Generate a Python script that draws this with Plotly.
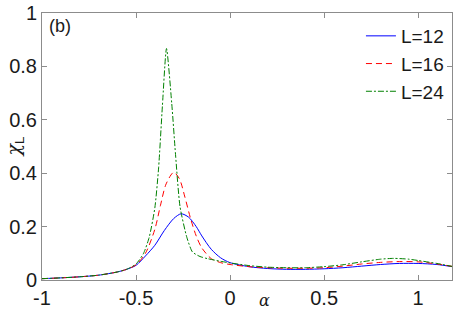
import plotly.graph_objects as go

# L=12
x12 = [-1, -0.9, -0.8, -0.7, -0.6, -0.55, -0.5, -0.45, -0.4, -0.35, -0.3, -0.26, -0.22, -0.18, -0.15, -0.1, -0.05, 0,
       0.1, 0.2, 0.3, 0.4, 0.5, 0.6, 0.7, 0.8, 0.9, 1.0, 1.1, 1.18]
y12 = [0.005, 0.008, 0.012, 0.018, 0.03, 0.04, 0.055, 0.09, 0.13, 0.185, 0.23, 0.248, 0.235, 0.2, 0.165, 0.115, 0.083, 0.065,
       0.05, 0.043, 0.04, 0.04, 0.042, 0.046, 0.052, 0.058, 0.062, 0.062, 0.058, 0.05]
# L=16
x16 = [-1, -0.9, -0.8, -0.7, -0.6, -0.55, -0.5, -0.45, -0.4, -0.37, -0.34, -0.3, -0.27, -0.24, -0.21, -0.18, -0.15, -0.1, -0.05, 0,
       0.1, 0.2, 0.3, 0.4, 0.5, 0.6, 0.7, 0.8, 0.9, 1.0, 1.1, 1.18]
y16 = [0.005, 0.008, 0.012, 0.018, 0.03, 0.04, 0.057, 0.1, 0.19, 0.28, 0.36, 0.403, 0.38, 0.31, 0.23, 0.165, 0.12, 0.08, 0.065, 0.058,
       0.05, 0.046, 0.044, 0.044, 0.046, 0.052, 0.06, 0.066, 0.069, 0.068, 0.06, 0.051]
# L=24
x24 = [-1, -0.9, -0.8, -0.7, -0.6, -0.55, -0.5, -0.46, -0.43, -0.4, -0.38, -0.36, -0.338, -0.31, -0.29, -0.266, -0.23, -0.2, -0.16,
       -0.12, -0.05, 0, 0.1, 0.2, 0.3, 0.4, 0.5, 0.6, 0.7, 0.8, 0.87, 0.95, 1.0, 1.1, 1.18]
y24 = [0.005, 0.008, 0.012, 0.018, 0.03, 0.04, 0.06, 0.1, 0.16, 0.27, 0.42, 0.65, 0.867, 0.66, 0.47, 0.274, 0.16, 0.105, 0.088,
       0.08, 0.07, 0.064, 0.054, 0.048, 0.046, 0.046, 0.05, 0.057, 0.068, 0.078, 0.081, 0.078, 0.073, 0.062, 0.051]

xtickvals = [-1, -0.5, 0, 0.5, 1]
xticktext = ["-1", "-0.5", "0", "0.5", "1"]
ytickvals = [0, 0.2, 0.4, 0.6, 0.8, 1]
yticktext = ["0", "0.2", "0.4", "0.6", "0.8", "1"]

FONT = "Liberation Sans, Arial, sans-serif"
TXT = "#1a1a1a"

fig = go.Figure()
fig.add_trace(go.Scatter(x=x12, y=y12, mode="lines", name="L=12",
                         line=dict(color="#0000ff", width=1, shape="spline", smoothing=0.8)))
fig.add_trace(go.Scatter(x=x16, y=y16, mode="lines", name="L=16",
                         line=dict(color="#ff0000", width=1, dash="6px,4px", shape="spline", smoothing=0.8)))
fig.add_trace(go.Scatter(x=x24, y=y24, mode="lines", name="L=24",
                         line=dict(color="#008000", width=1, dash="6px,2px,2px,2px", shape="spline", smoothing=0.6)))

axis_common = dict(showgrid=False, zeroline=False, showline=True, linecolor="#8c8c8c", linewidth=1,
                   mirror="allticks", ticks="inside", ticklen=5, tickcolor="#8c8c8c", automargin=False,
                   tickfont=dict(family=FONT, size=20, color=TXT))

fig.update_xaxes(range=[-1, 1.18], tickvals=xtickvals, ticktext=xticktext, **axis_common)
fig.update_yaxes(range=[0, 1], tickvals=ytickvals, ticktext=yticktext, **axis_common)

fig.add_annotation(x=-0.066, y=0.5, xref="paper", yref="paper",
                   text="<span style='font-family:DejaVu Serif'><i>χ</i></span><sub>L</sub>", showarrow=False,
                   textangle=-90, xanchor="center", yanchor="middle",
                   font=dict(family=FONT, size=19, color=TXT))
fig.add_annotation(x=0.185, y=-0.075, xref="x", yref="paper", text="<i>α</i>", showarrow=False,
                   font=dict(family="DejaVu Serif, serif", size=16, color=TXT), yanchor="middle")
fig.add_annotation(x=0.012, y=0.995, xref="paper", yref="paper", text="(b)", showarrow=False,
                   xanchor="left", yanchor="top", font=dict(family=FONT, size=18, color=TXT))

fig.update_layout(
    width=463, height=311,
    margin=dict(l=42, r=11, t=13, b=31),
    plot_bgcolor="white", paper_bgcolor="white",
    legend=dict(x=0.995, y=0.985, xanchor="right", yanchor="top", bgcolor="rgba(0,0,0,0)",
                font=dict(family=FONT, size=19, color=TXT), tracegroupgap=0, itemwidth=30),
    showlegend=True,
)

fig.write_html("out.html", config={"displayModeBar": False},
               post_script="document.body.style.margin='0';document.body.style.overflow='hidden';")
